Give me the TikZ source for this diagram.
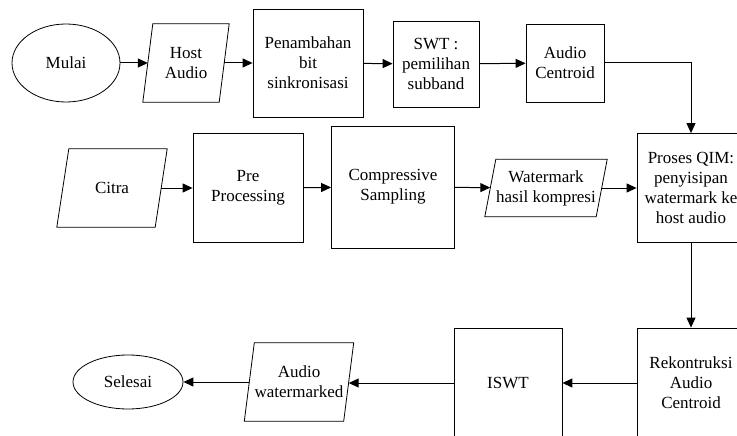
\documentclass[tikz,border=0pt]{standalone}
\usepackage{fontspec}
\setmainfont{Liberation Serif}
\usetikzlibrary{shapes,arrows.meta,positioning}

\tikzset{
    box/.style={draw, rectangle, line width=.8pt, align=center,
        inner sep=1pt, font=\fontsize{17}{20}\selectfont},
    io/.style={rectangle, align=center, inner sep=1pt,
        font=\fontsize{17}{20}\selectfont,
        append after command={\pgfextra{
            \draw[line width=.8pt] ([xshift=#1]\tikzlastnode.north west)
                -- (\tikzlastnode.north east)
                -- ([xshift=-#1]\tikzlastnode.south east)
                -- (\tikzlastnode.south west) -- cycle;}}},
    io/.default=11pt,
    terminal/.style={draw, ellipse, line width=.8pt, inner sep=1pt,
        font=\fontsize{17}{20}\selectfont},
    flow/.style={-{Triangle[length=10pt,width=9pt]}, line width=1pt},
    % ujung panah pada sisi miring
    toslant/.style={shorten >=-5.5pt},
    fromslant/.style={shorten <=-5.5pt}
}

\begin{document}
\begin{tikzpicture}[x=1pt,y=-1pt]
    \clip (0,0) rectangle (737,436);

    % baris atas
    \node[terminal, minimum width=108, minimum height=78] (mulai) at (66,63) {Mulai};
    \node[io=10pt, minimum width=86, minimum height=78] (host) at (186,63) {Host\\Audio};
    \node[box, minimum width=110, minimum height=108] (tambah) at (308,63)
        {Penambahan\\bit\\sinkronisasi};
    \node[box, minimum width=86, minimum height=86] (swt) at (436,64)
        {SWT :\\pemilihan\\subband};
    \node[box, minimum width=78, minimum height=78] (centroid) at (565,63)
        {Audio\\Centroid};

    % baris tengah
    \node[io=12pt, minimum width=110, minimum height=78] (citra) at (112,188) {Citra};
    \node[box, minimum width=110, minimum height=109] (pre) at (248,188)
        {Pre\\Processing};
    \node[box, minimum width=123, minimum height=122] (cs) at (393,187)
        {Compressive\\Sampling};
    \node[io, minimum width=122, minimum height=57] (wmk) at (546,188)
        {Watermark\\hasil kompresi};
    \node[box, minimum width=108, minimum height=109] (qim) at (691,188)
        {Proses QIM:\\penyisipan\\watermark ke\\host audio};

    % baris bawah
    \node[box, minimum width=108, minimum height=110] (rekon) at (691,383)
        {Rekontruksi\\Audio\\Centroid};
    \node[box, minimum width=108, minimum height=110] (iswt) at (508,383) {ISWT};
    \node[io=10pt, minimum width=109, minimum height=78] (wmaud) at (299,382)
        {Audio\\watermarked};
    \node[terminal, minimum width=110, minimum height=54] (selesai) at (128,382)
        {Selesai};

    \draw[flow, shorten >=-5pt] (mulai) -- (host);
    \draw[flow, shorten <=-5pt] (host) -- (host -| tambah.west);
    \draw[flow] (tambah) -- (swt);
    \draw[flow] (swt) -- (centroid);
    \draw[flow] (centroid) -| (qim);
    \draw[flow, shorten <=-6pt] (citra) -- (pre);
    \draw[flow] (pre) -- (cs);
    \draw[flow, toslant] (cs) -- (wmk);
    \draw[flow, fromslant] (wmk) -- (qim);
    \draw[flow] (qim) -- (rekon);
    \draw[flow] (rekon) -- (iswt);
    \draw[flow, shorten >=-5pt] (iswt) -- (iswt -| wmaud.east);
    \draw[flow, shorten <=-5pt] (wmaud) -- (selesai);

\end{tikzpicture}
\end{document}
